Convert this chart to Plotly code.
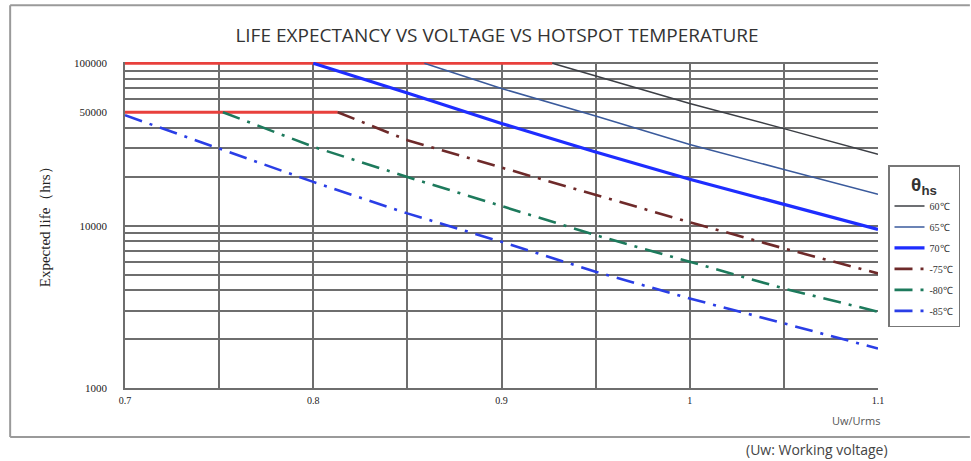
import plotly.graph_objects as go

# ---------------- data ----------------
u_60 = [0.927, 0.95, 1.0, 1.05, 1.1]
life_60 = [100000, 83500, 56500, 39600, 27500]

u_65 = [0.859, 0.9, 0.95, 1.0, 1.05, 1.1]
life_65 = [100000, 70000, 47400, 31600, 22200, 15600]

u_70 = [0.8, 0.85, 0.9, 0.95, 1.0, 1.05, 1.1]
life_70 = [100000, 65700, 42600, 28400, 19300, 13500, 9480]

u_75 = [0.813, 0.85, 0.9, 0.95, 1.0, 1.05, 1.1]
life_75 = [50000, 33600, 22800, 15400, 10500, 7240, 5080]

u_80 = [0.752, 0.8, 0.85, 0.9, 0.95, 1.0, 1.05, 1.1]
life_80 = [50000, 30600, 19950, 13200, 8740, 5990, 4100, 2950]

u_85 = [0.7, 0.75, 0.8, 0.85, 0.9, 0.95, 1.0, 1.05, 1.1]
life_85 = [47900, 29800, 18600, 11900, 7950, 5200, 3560, 2500, 1750]

u_cap_hi = [0.7, 0.927]
life_cap_hi = [100000, 100000]
u_cap_lo = [0.7, 0.813]
life_cap_lo = [50000, 50000]

series_names = ["60℃", "65℃", "70℃", "-75℃", "-80℃", "-85℃"]

x_tickvals = [0.7, 0.75, 0.8, 0.85, 0.9, 0.95, 1.0, 1.05, 1.1]
x_ticktext = ["0.7", " ", "0.8", " ", "0.9", " ", "1", " ", "1.1"]

y_tickvals = [1000, 2000, 3000, 4000, 5000, 6000, 7000, 8000, 9000,
              10000, 20000, 30000, 40000, 50000, 60000, 70000, 80000, 90000, 100000]
y_labels = {1000: "1000", 10000: "10000", 50000: "50000", 100000: "100000"}
y_ticktext = [y_labels.get(v, " ") for v in y_tickvals]

# ---------------- layout geometry (pixels) ----------------
W, H = 971, 461
L, R = 125, 879
B = 388
Y_TOP_LOG = 5.008
PX_PER_DEC = 162.5
T = B - PX_PER_DEC * (Y_TOP_LOG - 3)


def px(xp):
    return (xp - L) / (R - L)


def py(yp):
    return (B - yp) / (B - T)


DASH = "18px,8px,3px,8px"
styles = [
    dict(color="#3c3f45", width=1.5),
    dict(color="#3a5a9c", width=1.5),
    dict(color="#1e2dff", width=3.2),
    dict(color="#6e2a2a", width=2.6, dash=DASH),
    dict(color="#1d7a5c", width=2.6, dash=DASH),
    dict(color="#2a3ee6", width=2.6, dash=DASH),
]
xs = [u_60, u_65, u_70, u_75, u_80, u_85]
ys = [life_60, life_65, life_70, life_75, life_80, life_85]

fig = go.Figure()

for u, lv in [(u_cap_hi, life_cap_hi), (u_cap_lo, life_cap_lo)]:
    fig.add_trace(go.Scatter(x=u, y=lv, mode="lines",
                             line=dict(color="#e8403c", width=3),
                             showlegend=False, hoverinfo="skip"))

for i, (u, lv, st) in enumerate(zip(xs, ys, styles)):
    fig.add_trace(go.Scatter(x=u, y=lv, mode="lines", name=series_names[i],
                             line=st, legendgroup="g%d" % i))

GRID = "#6e6e6e"
fig.update_xaxes(range=[0.7, 1.1], tickvals=x_tickvals, ticktext=x_ticktext,
                 showgrid=True, gridcolor=GRID, gridwidth=1.6,
                 showline=True, linecolor=GRID, linewidth=1.6, mirror=False,
                 zeroline=False, ticks="", ticklabelstandoff=2,
                 tickfont=dict(family="Liberation Serif", size=10, color="#222222"))
fig.update_yaxes(type="log", range=[3, Y_TOP_LOG], tickvals=y_tickvals, ticktext=y_ticktext,
                 showgrid=True, gridcolor=GRID, gridwidth=1.6,
                 showline=True, linecolor=GRID, linewidth=1.6,
                 zeroline=False, ticks="", ticklabelstandoff=14,
                 tickfont=dict(family="Liberation Serif", size=11, color="#222222"))

annotations = [
    dict(text="Expected life（hrs）", x=px(45), y=py(223), xref="paper", yref="paper",
         showarrow=False, textangle=-90, xanchor="center", yanchor="middle",
         font=dict(family="Liberation Serif", size=15, color="#222222")),
    dict(text="Uw/Urms", x=px(884), y=py(421), xref="paper", yref="paper",
         showarrow=False, xanchor="right", yanchor="middle",
         font=dict(family="Open Sans", size=11, color="#555555")),
    dict(text="(Uw: Working voltage)", x=px(891), y=py(450), xref="paper", yref="paper",
         showarrow=False, xanchor="right", yanchor="middle",
         font=dict(family="Open Sans", size=14, color="#444444")),
]

FRAME = "#9a9a9a"
shapes = [
    dict(type="line", xref="paper", yref="paper", x0=px(10), x1=px(971), y0=py(5), y1=py(5),
         line=dict(color=FRAME, width=2)),
    dict(type="line", xref="paper", yref="paper", x0=px(10), x1=px(10), y0=py(5), y1=py(437),
         line=dict(color=FRAME, width=2)),
    dict(type="line", xref="paper", yref="paper", x0=px(10), x1=px(971), y0=py(437), y1=py(437),
         line=dict(color=FRAME, width=2)),
]

fig.update_layout(
    width=W, height=H, autosize=False,
    margin=dict(l=L, r=W - R, t=T, b=H - B, pad=0),
    paper_bgcolor="white", plot_bgcolor="white",
    title=dict(text="LIFE EXPECTANCY VS VOLTAGE VS HOTSPOT TEMPERATURE",
               x=497 / W, y=1 - 35 / H, xanchor="center", yanchor="middle",
               xref="container", yref="container",
               font=dict(family="Open Sans", size=19, color="#333333")),
    legend=dict(x=px(888), y=py(165), xanchor="left", yanchor="top",
                bordercolor="#777777", borderwidth=1.5, bgcolor="white",
                font=dict(family="Liberation Serif", size=10, color="#333333"),
                title=dict(text="<b>θ<sub>hs</sub></b>", side="top center",
                           font=dict(family="Liberation Sans", size=19, color="#333333")),
                traceorder="grouped", tracegroupgap=2, itemwidth=30),
    annotations=annotations,
    shapes=shapes,
    showlegend=True,
)

fig.write_html(
    "out.html",
    config={"displayModeBar": False},
    post_script="document.body.style.margin='0';document.body.style.overflow='hidden';",
)
